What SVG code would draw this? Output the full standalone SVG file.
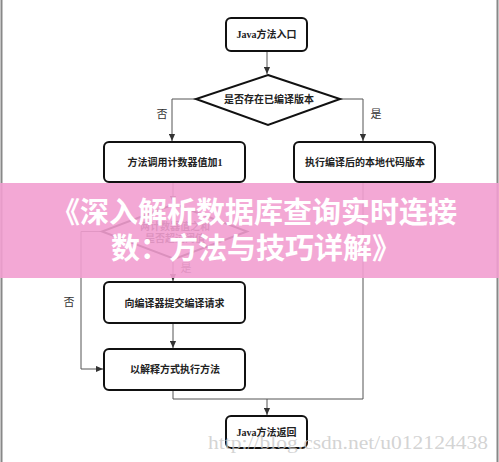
<svg xmlns="http://www.w3.org/2000/svg" width="499" height="462" viewBox="0 0 499 462">
<defs>
<marker id="arr" viewBox="0 0 8 8" refX="8" refY="4" markerWidth="7" markerHeight="7" markerUnits="userSpaceOnUse" orient="auto">
<path d="M0,0.5 L8,4 L0,7.5 Z" fill="#333"/>
</marker>
</defs>
<style>
.box{fill:#fff;stroke:#111;stroke-width:2}
.dia{fill:#fff;stroke:#111;stroke-width:2}
.t{font-family:"Liberation Serif","Noto Sans CJK SC",serif;font-size:10px;font-weight:bold;fill:#222;text-anchor:middle;dominant-baseline:central}
.c{fill:none;stroke:#555;stroke-width:1}
.lbl{font-family:"Liberation Serif","Noto Sans CJK SC",serif;font-size:11px;fill:#333;text-anchor:middle;dominant-baseline:central}
.title{font-family:"Noto Sans CJK SC",sans-serif;font-size:29px;font-weight:bold;fill:#fff;text-anchor:middle}
</style>
<rect width="499" height="462" fill="#fff"/>
<line x1="1.5" y1="0" x2="1.5" y2="462" stroke="#888" stroke-width="2"/>
<line x1="497.5" y1="0" x2="497.5" y2="462" stroke="#888" stroke-width="2"/>

<g id="connectors">
<path class="c" d="M267,51 V74" marker-end="url(#arr)"/>
<path class="c" d="M196,99 H172 V141" marker-end="url(#arr)"/>
<path class="c" d="M340,99 H363 V141" marker-end="url(#arr)"/>
<path class="c" d="M173,182 V203" marker-end="url(#arr)"/>
<path class="c" d="M102,231.5 H81 V369 H103" marker-end="url(#arr)"/>
<path class="c" d="M173,259 V281" marker-end="url(#arr)"/>
<path class="c" d="M173,323 V348" marker-end="url(#arr)"/>
<path class="c" d="M173,390 V399 H363 V182"/>
<path class="c" d="M267,399 V415" marker-end="url(#arr)"/>
<text class="lbl" x="162" y="114">否</text>
<text class="lbl" x="376" y="114">是</text>
<text class="lbl" x="69" y="302">否</text>
<text class="lbl" x="186" y="268">是</text>
</g>

<g id="start">
<rect class="box" x="226" y="18" width="81" height="33" rx="5"/>
<text class="t" x="266.5" y="34">Java方法入口</text>
</g>
<g id="check-compiled">
<polygon class="dia" points="268,75 340,99 268,125 196,99"/>
<text class="t" x="269" y="99">是否存在已编译版本</text>
</g>
<g id="counter">
<rect class="box" x="104" y="142" width="141" height="40" rx="5"/>
<text class="t" x="175" y="162">方法调用计数器值加1</text>
</g>
<g id="native">
<rect class="box" x="294" y="142" width="141" height="40" rx="5"/>
<text class="t" x="365" y="162">执行编译后的本地代码版本</text>
</g>
<g id="threshold">
<polygon class="dia" points="174.5,204 247,231.5 174.5,259 102,231.5"/>
<text class="t" x="175" y="226">两计数器值之和</text>
<text class="t" x="175" y="238">是否超过阈值</text>
</g>
<g id="submit">
<rect class="box" x="104" y="282" width="141" height="41" rx="5"/>
<text class="t" x="174.5" y="303">向编译器提交编译请求</text>
</g>
<g id="interpret">
<rect class="box" x="104" y="349" width="141" height="41" rx="5"/>
<text class="t" x="175" y="369">以解释方式执行方法</text>
</g>
<g id="return">
<rect class="box" x="226" y="416" width="81" height="32" rx="5"/>
<text class="t" x="266.5" y="432">Java方法返回</text>
</g>

<text x="348" y="449" font-family="Liberation Serif, serif" font-size="19" fill="#c8c8c8" fill-opacity="0.8" text-anchor="middle" textLength="280" lengthAdjust="spacingAndGlyphs">http://blog.csdn.net/u012124438</text>

<rect x="0" y="183" width="499" height="95" fill="#f29fd0" fill-opacity="0.9"/>
<text class="title" x="254" y="223">《深入解析数据库查询实时连接</text>
<text class="title" x="256" y="259">数：方法与技巧详解》</text>
</svg>
